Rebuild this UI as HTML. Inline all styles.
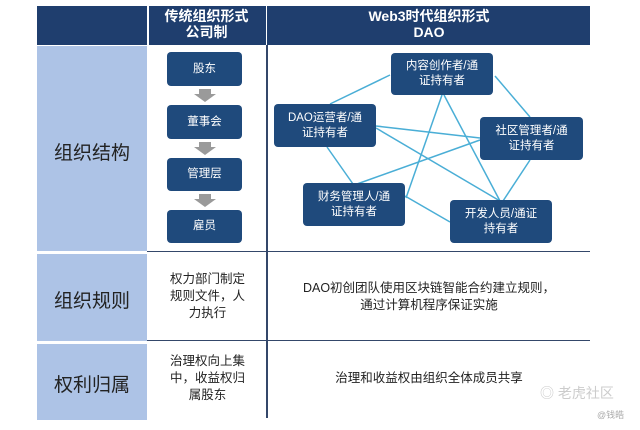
<!DOCTYPE html>
<html><head><meta charset="utf-8"><style>
body{margin:0;width:640px;height:430px;background:#fff;position:relative;overflow:hidden;font-family:"Liberation Sans","Noto Sans CJK SC",sans-serif}
.a{position:absolute}
.hd{background:#1f3e6e;color:#fff;font-weight:bold;font-size:14px;text-align:center;line-height:16px}
.bx{position:absolute;background:#1f4a7c;color:#fff;border-radius:4px;display:flex;align-items:center;justify-content:center;text-align:center;font-size:11.5px;line-height:15px}
.lab{position:absolute;left:37px;width:110px;text-align:center;font-size:19px;color:#222}
.t{position:absolute;text-align:center;font-size:12.5px;line-height:17px;color:#222}
</style></head><body>
<div class="a hd" style="left:37px;top:6px;width:553px;height:39px"></div>
<div class="a hd" style="left:147px;top:8px;width:119px">传统组织形式<br>公司制</div>
<div class="a hd" style="left:268px;top:8px;width:322px">Web3时代组织形式<br>DAO</div>
<div class="a" style="left:147px;top:6px;width:2px;height:39px;background:#fff"></div>
<div class="a" style="left:266px;top:6px;width:1px;height:39px;background:#fff"></div>
<div class="a" style="left:37px;top:46px;width:110px;height:205px;background:#adc3e6"></div>
<div class="a" style="left:37px;top:254px;width:110px;height:87px;background:#adc3e6"></div>
<div class="a" style="left:37px;top:344px;width:110px;height:76px;background:#adc3e6"></div>
<div class="a" style="left:266px;top:45px;width:1.5px;height:373px;background:#34476a"></div>
<div class="a" style="left:147px;top:251px;width:443px;height:1px;background:#34476a"></div>
<div class="a" style="left:147px;top:340px;width:443px;height:1px;background:#34476a"></div>
<div class="lab" style="top:138px">组织结构</div>
<div class="lab" style="top:286px">组织规则</div>
<div class="lab" style="top:370px">权利归属</div>
<div class="bx" style="left:167px;top:52px;width:75px;height:34px">股东</div>
<div class="bx" style="left:167px;top:105px;width:75px;height:34px">董事会</div>
<div class="bx" style="left:167px;top:158px;width:75px;height:33px">管理层</div>
<div class="bx" style="left:167px;top:210px;width:75px;height:33px">雇员</div>
<svg class="a" style="left:0;top:0" width="640" height="430">
<g fill="#9a9a9a">
<polygon points="199,89 211,89 211,94 216,94 205,102 194,94 199,94"/>
<polygon points="199,142 211,142 211,147 216,147 205,155 194,147 199,147"/>
<polygon points="199,194 211,194 211,199 216,199 205,207 194,199 199,199"/>
</g>
<g stroke="#4aaed6" stroke-width="1.5" fill="none">
<line x1="390" y1="75" x2="330" y2="104"/>
<line x1="442" y1="95" x2="406" y2="198"/>
<line x1="444" y1="95" x2="500" y2="201"/>
<line x1="495" y1="76" x2="530" y2="117"/>
<line x1="376" y1="126" x2="480" y2="138"/>
<line x1="376" y1="128" x2="500" y2="201"/>
<line x1="327" y1="147" x2="353" y2="184"/>
<line x1="357" y1="184" x2="480" y2="140"/>
<line x1="405" y1="196" x2="450" y2="222"/>
<line x1="530" y1="160" x2="503" y2="201"/>
</g>
</svg>
<div class="bx" style="left:391px;top:53px;width:102px;height:42px">内容创作者/通<br>证持有者</div>
<div class="bx" style="left:274px;top:104px;width:102px;height:43px">DAO运营者/通<br>证持有者</div>
<div class="bx" style="left:480px;top:117px;width:103px;height:43px">社区管理者/通<br>证持有者</div>
<div class="bx" style="left:303px;top:183px;width:102px;height:43px">财务管理人/通<br>证持有者</div>
<div class="bx" style="left:450px;top:200px;width:102px;height:43px">开发人员/通证<br>持有者</div>
<div class="t" style="left:150px;top:271px;width:115px">权力部门制定<br>规则文件，人<br>力执行</div>
<div class="t" style="left:268px;top:280px;width:322px">DAO初创团队使用区块链智能合约建立规则，<br>通过计算机程序保证实施</div>
<div class="t" style="left:150px;top:353px;width:115px">治理权向上集<br>中，收益权归<br>属股东</div>
<div class="t" style="left:268px;top:370px;width:322px">治理和收益权由组织全体成员共享</div>
<div class="a" style="left:540px;top:383px;font-size:14px;color:#ccc">◎ 老虎社区</div>
<div class="a" style="left:597px;top:408px;font-size:9px;color:#aaa">@钱皓</div>
</body></html>
